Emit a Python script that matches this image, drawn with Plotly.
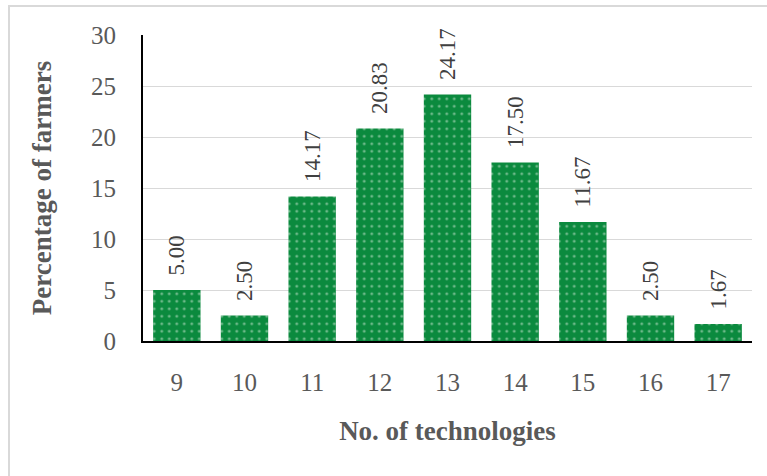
import plotly.graph_objects as go

categories = ["9", "10", "11", "12", "13", "14", "15", "16", "17"]
values = [5.00, 2.50, 14.17, 20.83, 24.17, 17.50, 11.67, 2.50, 1.67]
y_ticks = [0, 5, 10, 15, 20, 25, 30]

W, H = 767, 476
L, R, T, B = 143, 15, 35, 135

label_font = dict(family="Liberation Serif, Times New Roman, serif", size=23, color="#404040")

fig = go.Figure(go.Bar(
    x=categories,
    y=values,
    text=["\u00a0\u00a0" + f"{v:.2f}" for v in values],
    textposition="outside",
    textangle=-90,
    constraintext="none",
    cliponaxis=False,
    textfont=label_font,
    outsidetextfont=label_font,
    marker=dict(
        color="#0b8a3e",
        line=dict(width=0),
        pattern=dict(shape=".", fgcolor="#cfe8d6", bgcolor="#0b8a3e",
                     size=7.5, solidity=0.12, fillmode="overlay"),
    ),
    width=0.7,
))

pw = W - L - R
ph = H - T - B
fig.add_shape(type="rect", xref="paper", yref="paper",
              x0=(9 - L) / pw, x1=(W + 20 - L) / pw,
              y0=-(H + 20 - T - ph) / ph, y1=(ph + T - 6) / ph,
              line=dict(color="#d9d9d9", width=2), layer="below")

fig.update_layout(
    width=W, height=H,
    margin=dict(l=L, r=R, t=T, b=B, autoexpand=False),
    paper_bgcolor="white", plot_bgcolor="white",
    showlegend=False,
    font=dict(family="Liberation Serif, Times New Roman, serif", color="#595959"),
    xaxis=dict(
        type="category",
        showline=True, linecolor="black", linewidth=2,
        ticks="outside", ticklen=18, tickcolor="rgba(0,0,0,0)",
        tickfont=dict(size=25, color="#595959"),
        title=dict(text="<b>No. of technologies</b>", font=dict(size=27, color="#595959"), standoff=26),
        automargin=False,
    ),
    yaxis=dict(
        range=[0, 30], tickvals=y_ticks,
        showline=True, linecolor="black", linewidth=2,
        showgrid=True, gridcolor="#d9d9d9", gridwidth=1,
        zeroline=False, ticks="outside", ticklen=20, tickcolor="rgba(0,0,0,0)",
        tickfont=dict(size=25, color="#595959"),
        title=dict(text="<b>Percentage of farmers</b>", font=dict(size=27, color="#595959"), standoff=32),
        automargin=False,
    ),
)

fig.write_html("out.html", config={"displayModeBar": False},
               post_script="document.body.style.margin='0px';")
